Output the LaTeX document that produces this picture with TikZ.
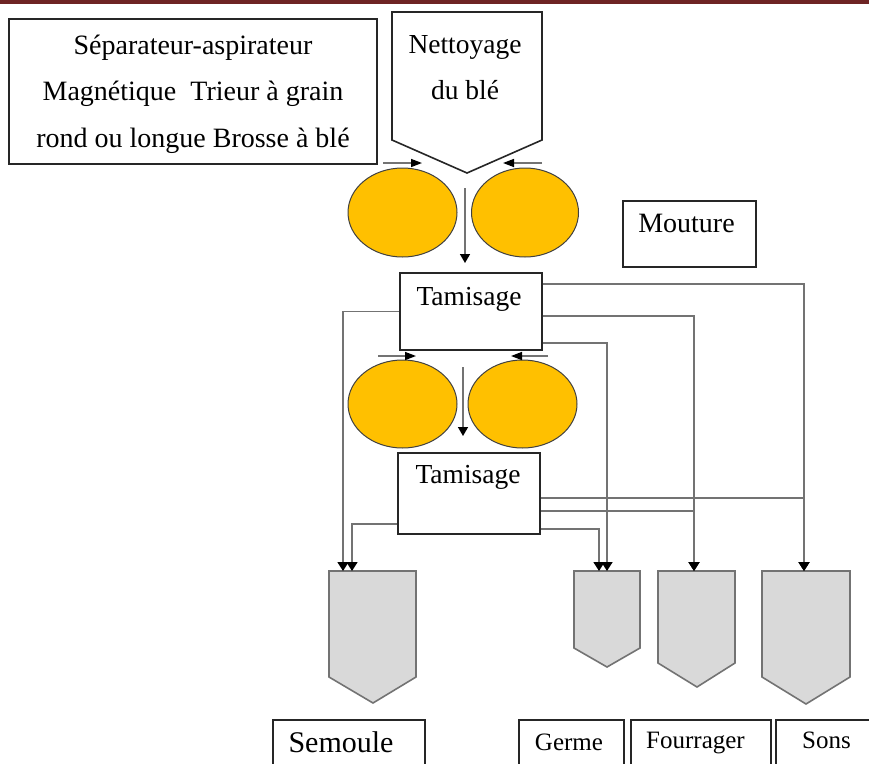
\documentclass[tikz,border=0pt]{standalone}
\usepackage{fontspec}
\setmainfont{Liberation Serif}
\usetikzlibrary{arrows.meta,shapes.geometric,calc}
\definecolor{barred}{RGB}{110,36,36}
\definecolor{roller}{RGB}{255,192,0}
\definecolor{silogray}{RGB}{217,217,217}

\begin{document}
\begin{tikzpicture}[x=1pt,y=-1pt,
  frame/.style={draw=black!85, line width=1.6pt, fill=white, inner sep=0pt},
  roll/.style={ellipse, draw=black!75, line width=1pt, fill=roller, inner sep=0pt},
  flow/.style={draw=black!55, line width=1.6pt},
  drop/.style={flow, -{Triangle[length=9pt,width=11pt,color=black]}},
  push/.style={draw=black!55, line width=1.5pt, -{Triangle[length=11pt,width=8pt,color=black]}},
  fall/.style={draw=black!55, line width=1.5pt, -{Triangle[length=9pt,width=10pt,color=black]}},
  silo/.style={draw=black!55, line width=1.6pt, fill=silogray},
  txt/.style={inner sep=0pt, text=black, anchor=base},
  big/.style={font=\fontsize{28}{34}\selectfont},
  mid/.style={font=\fontsize{27.5}{33}\selectfont},
  small/.style={font=\fontsize{25}{30}\selectfont}
]
\useasboundingbox (0,0) rectangle (869,763);
\clip (0,0) rectangle (869,763);

% header rule
\fill[barred] (0,0) rectangle (869,4);

% list of cleaning machines
\node[frame, minimum width=368pt, minimum height=145pt] (equip) at (193,91.5) {};
\node[txt, big] (eq1) at (193,54) {Séparateur-aspirateur};
\node[txt, big] (eq2) at (193,100) {Magnétique~ Trieur à grain};
\node[txt, big] (eq3) at (193,147) {rond ou longue Brosse à blé};

% cleaning hopper
\draw[frame] (392,12) -- (542,12) -- (542,140) -- (467,173) -- (392,140) -- cycle;
\node[txt, mid] (clean1) at (465,53) {Nettoyage};
\node[txt, mid] (clean2) at (465,99) {du blé};

% first pair of rolls
\node[roll, minimum width=109pt, minimum height=89pt] (r1) at (402.5,212.5) {};
\node[roll, minimum width=107pt, minimum height=89pt] (r2) at (525,212.5) {};
\coordinate (a1s) at (383,163); \coordinate (a1e) at (422,163);
\coordinate (a2s) at (542,163); \coordinate (a2e) at (503,163);
\coordinate (a3s) at (465,188); \coordinate (a3e) at (465,263);
\draw[push] (a1s) -- (a1e);
\draw[push] (a2s) -- (a2e);
\draw[fall] (a3s) -- (a3e);

% milling label
\node[frame, minimum width=133pt, minimum height=66pt] (mill) at (689.5,234) {};
\node[txt, big] (milltxt) at (686.5,232) {Mouture};

% first sieving
\node[frame, minimum width=142pt, minimum height=77pt] (tam1) at (471,311.5) {};
\node[txt, mid] (tam1txt) at (469,305) {Tamisage};

% second pair of rolls
\node[roll, minimum width=109pt, minimum height=88pt] (r3) at (402.5,404) {};
\node[roll, minimum width=109pt, minimum height=88pt] (r4) at (522.5,404) {};
\coordinate (b1s) at (378,356); \coordinate (b1e) at (416,356);
\coordinate (b2s) at (548,356); \coordinate (b2e) at (511,356);
\coordinate (b3s) at (463,367); \coordinate (b3e) at (463,436);
\draw[push] (b1s) -- (b1e);
\draw[push] (b2s) -- (b2e);
\draw[fall] (b3s) -- (b3e);

% second sieving
\node[frame, minimum width=142pt, minimum height=81pt] (tam2) at (469,493.5) {};
\node[txt, mid] (tam2txt) at (468,483) {Tamisage};

% silos
\draw[silo] (329,571) -- (416,571) -- (416,677) -- (373,703) -- (329,677) -- cycle;
\draw[silo] (574,571) -- (640,571) -- (640,648) -- (607,667) -- (574,648) -- cycle;
\draw[silo] (658,571) -- (735,571) -- (735,663) -- (697,687) -- (658,663) -- cycle;
\draw[silo] (762,571) -- (850,571) -- (850,677) -- (806,704) -- (762,677) -- cycle;
\coordinate (semL) at (343,571);
\coordinate (semR) at (352,571);
\coordinate (gerL) at (599,571);
\coordinate (gerR) at (607,571);
\coordinate (four) at (694,571);
\coordinate (sons) at (804,571);

% product streams
\draw[drop] (tam1.west) -| (semL);
\draw[drop] ($(tam2.south west)+(0,-11)$) -| (semR);
\draw[drop] ($(tam1.north east)+(0,12)$) -| (sons);
\draw[drop] ($(tam1.north east)+(0,44)$) -| (four);
\draw[drop] ($(tam1.north east)+(0,71)$) -| (gerR);
\draw[drop] ($(tam2.north east)+(0,46)$) -| (sons);
\draw[drop] ($(tam2.north east)+(0,59)$) -| (four);
\draw[drop] ($(tam2.north east)+(0,77)$) -| (gerL);

% product labels
\node[frame, minimum width=152pt, minimum height=60pt, anchor=north west] (semlbl) at (272,719) {};
\node[txt, font=\fontsize{30}{36}\selectfont] (semtxt) at (341,752) {Semoule};
\node[frame, minimum width=105pt, minimum height=60pt, anchor=north west] (gerlbl) at (518,719) {};
\node[txt, small] (gertxt) at (569,750) {Germe};
\node[frame, minimum width=140pt, minimum height=60pt, anchor=north west] (fourlbl) at (630,719) {};
\node[txt, small] (fourtxt) at (695.5,748) {Fourrager};
\node[frame, minimum width=110pt, minimum height=60pt, anchor=north west] (sonslbl) at (775,719) {};
\node[txt, small] (sonstxt) at (826.5,748) {Sons};
\end{tikzpicture}
\end{document}
